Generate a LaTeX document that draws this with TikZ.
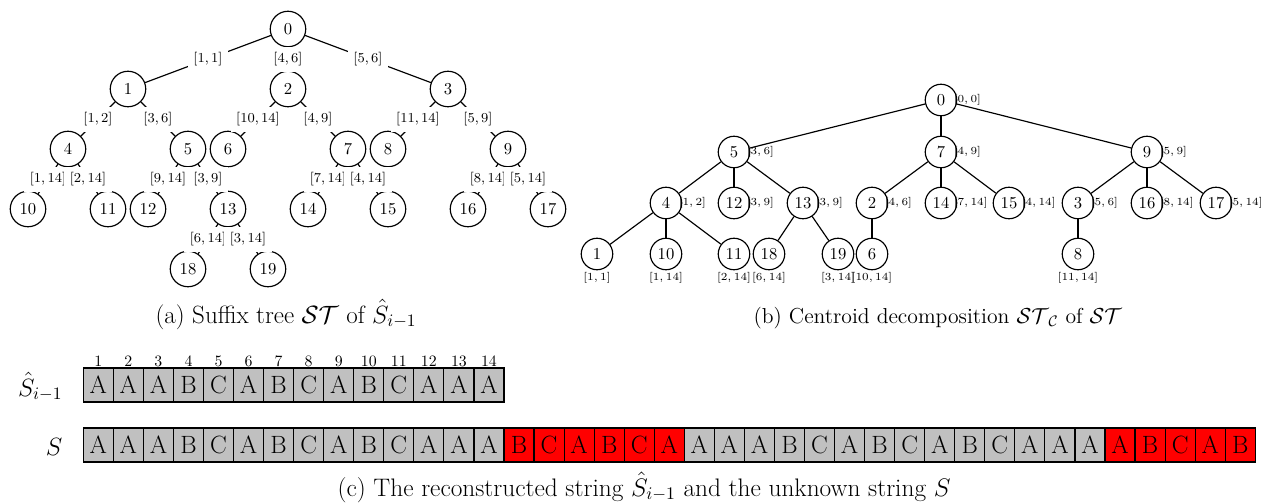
\RequirePackage{fix-cm}
\documentclass[tikz,border=0pt]{standalone}
\usepackage{fontspec}
\definecolor{cellgray}{RGB}{192,192,192}
\definecolor{cellred}{RGB}{255,0,0}
\begin{document}
\begin{tikzpicture}[x=0.6pt,y=-0.6pt,line width=0.7pt,
  lnode/.style={circle,draw,minimum size=21.3pt,inner sep=0pt,font=\fontsize{10}{12}\selectfont},
  rnode/.style={circle,draw,minimum size=18.9pt,inner sep=0pt,font=\fontsize{10}{12}\selectfont},
  llab/.style={fill=white,inner sep=3.4pt,font=\fontsize{8.2}{10}\selectfont},
  rlab/.style={inner sep=0pt,font=\fontsize{6.5}{8}\selectfont},
  cell/.style={draw,minimum width=18.03pt,minimum height=20.4pt,inner sep=0pt,font=\fontsize{15}{18}\selectfont},
  idx/.style={inner sep=0pt,anchor=base,font=\fontsize{9.5}{11}\selectfont},
  rowlab/.style={inner sep=0pt,anchor=base east,font=\fontsize{15}{18}\selectfont},
  capta/.style={inner sep=0pt,anchor=base,font=\fontsize{15}{18}\selectfont},
  captb/.style={inner sep=0pt,anchor=base west,font=\fontsize{13}{16}\selectfont},
  captc/.style={inner sep=0pt,anchor=base west,font=\fontsize{15.2}{18}\selectfont}]
\useasboundingbox (0,0) rectangle (1263,502);

% ---------------- (a) suffix tree ----------------
\node[lnode] (a0) at (288,29) {0};
\node[lnode] (a1) at (128,89) {1};
\node[lnode] (a2) at (288,89) {2};
\node[lnode] (a3) at (448,89) {3};
\node[lnode] (a4) at (68,149) {4};
\node[lnode] (a5) at (188,149) {5};
\node[lnode] (a6) at (228,149) {6};
\node[lnode] (a7) at (348,149) {7};
\node[lnode] (a8) at (388,149) {8};
\node[lnode] (a9) at (508,149) {9};
\node[lnode] (a10) at (28,209) {10};
\node[lnode] (a11) at (108,209) {11};
\node[lnode] (a12) at (148,209) {12};
\node[lnode] (a13) at (228,209) {13};
\node[lnode] (a14) at (308,209) {14};
\node[lnode] (a15) at (388,209) {15};
\node[lnode] (a16) at (468,209) {16};
\node[lnode] (a17) at (548,209) {17};
\node[lnode] (a18) at (188,269) {18};
\node[lnode] (a19) at (268,269) {19};

\draw (a0) -- node[llab] (e01) {$[1,1]$} (a1);
\draw (a0) -- node[llab] (e02) {$[4,6]$} (a2);
\draw (a0) -- node[llab] (e03) {$[5,6]$} (a3);
\draw (a1) -- node[llab] (e14) {$[1,2]$} (a4);
\draw (a1) -- node[llab] (e15) {$[3,6]$} (a5);
\draw (a2) -- node[llab] (e26) {$[10,14]$} (a6);
\draw (a2) -- node[llab] (e27) {$[4,9]$} (a7);
\draw (a3) -- node[llab] (e38) {$[11,14]$} (a8);
\draw (a3) -- node[llab] (e39) {$[5,9]$} (a9);
\draw (a4) -- node[llab] (e410) {$[1,14]$} (a10);
\draw (a4) -- node[llab] (e411) {$[2,14]$} (a11);
\draw (a5) -- node[llab] (e512) {$[9,14]$} (a12);
\draw (a5) -- node[llab] (e513) {$[3,9]$} (a13);
\draw (a7) -- node[llab] (e714) {$[7,14]$} (a14);
\draw (a7) -- node[llab] (e715) {$[4,14]$} (a15);
\draw (a9) -- node[llab] (e916) {$[8,14]$} (a16);
\draw (a9) -- node[llab] (e917) {$[5,14]$} (a17);
\draw (a13) -- node[llab] (e1318) {$[6,14]$} (a18);
\draw (a13) -- node[llab] (e1319) {$[3,14]$} (a19);

\node[capta] (capa) at (286,323) {(a) Suffix tree $\mathcal{ST}$ of $\hat{S}_{i-1}$};

% ---------------- (b) centroid decomposition ----------------
\tikzset{re/.style={label={[rlab,label distance=-2.5pt]east:#1}},
         rb/.style={label={[rlab,label distance=1pt]below:#1}}}
\node[rnode,re={$[0,0]$}] (b0) at (941,100) {0};
\node[rnode,re={$[3,6]$}] (b5) at (734,152) {5};
\node[rnode,re={$[4,9]$}] (b7) at (941,152) {7};
\node[rnode,re={$[5,9]$}] (b9) at (1147,152) {9};
\node[rnode,re={$[1,2]$}] (b4) at (666,203) {4};
\node[rnode,re={$[3,9]$}] (b12) at (734,203) {12};
\node[rnode,re={$[3,9]$}] (b13) at (803,203) {13};
\node[rnode,re={$[4,6]$}] (b2) at (872,203) {2};
\node[rnode,re={$[7,14]$}] (b14) at (941,203) {14};
\node[rnode,re={$[4,14]$}] (b15) at (1009,203) {15};
\node[rnode,re={$[5,6]$}] (b3) at (1078,203) {3};
\node[rnode,re={$[8,14]$}] (b16) at (1147,203) {16};
\node[rnode,re={$[5,14]$}] (b17) at (1216,203) {17};
\node[rnode,rb={$[1,1]$}] (b1) at (597,254) {1};
\node[rnode,rb={$[1,14]$}] (b10) at (666,254) {10};
\node[rnode,rb={$[2,14]$}] (b11) at (734,254) {11};
\node[rnode,rb={$[6,14]$}] (b18) at (769,254) {18};
\node[rnode,rb={$[3,14]$}] (b19) at (838,254) {19};
\node[rnode,rb={$[10,14]$}] (b6) at (872,254) {6};
\node[rnode,rb={$[11,14]$}] (b8) at (1078,254) {8};

\draw (b0) -- (b5);
\draw (b0) -- (b7);
\draw (b0) -- (b9);
\draw (b5) -- (b4);
\draw (b5) -- (b12);
\draw (b5) -- (b13);
\draw (b7) -- (b2);
\draw (b7) -- (b14);
\draw (b7) -- (b15);
\draw (b9) -- (b3);
\draw (b9) -- (b16);
\draw (b9) -- (b17);
\draw (b4) -- (b1);
\draw (b4) -- (b10);
\draw (b4) -- (b11);
\draw (b13) -- (b18);
\draw (b13) -- (b19);
\draw (b2) -- (b6);
\draw (b3) -- (b8);

\node[captb] (capb) at (753,323) {(b) Centroid decomposition $\mathcal{ST}_{\mathcal{C}}$ of $\mathcal{ST}$};

% ---------------- (c) strings ----------------
\node[rowlab] (lh) at (63,396) {$\hat{S}_{i-1}$};
\node[rowlab] (ls) at (63,455) {$S$};

\foreach \c [count=\i] in {A,A,A,B,C,A,B,C,A,B,C,A,A,A} {
  \node[cell,fill=cellgray] (h\i) at ({83.3+30.05*(\i-0.5)},385) {\c};
  \node[idx] (n\i) at ({83.3+30.05*(\i-0.5)},366) {\i};
}
\foreach \c/\col [count=\i] in {A/cellgray,A/cellgray,A/cellgray,B/cellgray,C/cellgray,A/cellgray,B/cellgray,C/cellgray,A/cellgray,B/cellgray,C/cellgray,A/cellgray,A/cellgray,A/cellgray,
  B/cellred,C/cellred,A/cellred,B/cellred,C/cellred,A/cellred,
  A/cellgray,A/cellgray,A/cellgray,B/cellgray,C/cellgray,A/cellgray,B/cellgray,C/cellgray,A/cellgray,B/cellgray,C/cellgray,A/cellgray,A/cellgray,A/cellgray,
  A/cellred,B/cellred,C/cellred,A/cellred,B/cellred} {
  \node[cell,fill=\col] (s\i) at ({83.3+30.05*(\i-0.5)},445) {\c};
}

\node[captc] (capc) at (337,496) {(c) The reconstructed string $\hat{S}_{i-1}$ and the unknown string $S$};
\end{tikzpicture}
\end{document}
